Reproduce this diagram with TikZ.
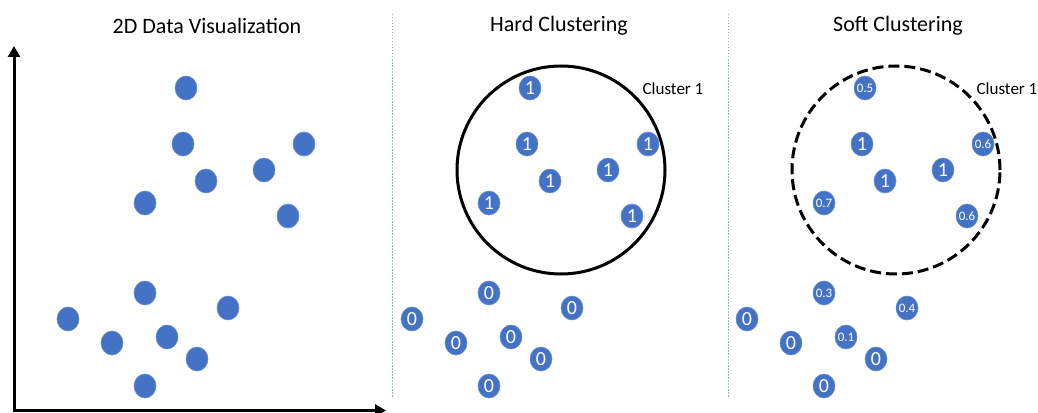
\documentclass[tikz,border=0pt]{standalone}
\usepackage{fontspec}
\setmainfont{Carlito}
\usetikzlibrary{shapes.geometric,arrows.meta}
\definecolor{dotblue}{HTML}{4472C4}
\definecolor{dotedge}{HTML}{6A8ED0}
\definecolor{sepblue}{HTML}{8FB3E3}
\tikzset{
  pt/.style={ellipse, fill=dotblue, draw=dotedge, line width=0.6pt,
             minimum width=22pt, minimum height=24pt, inner sep=0pt,
             text=white, font=\fontsize{20}{20}\selectfont},
  ptsmall/.style={pt, font=\fontsize{13}{13}\selectfont},
  title/.style={font=\fontsize{22}{22}\selectfont},
  clabel/.style={font=\fontsize{17}{17}\selectfont},
  cluster/.style={circle, draw=black, line width=3pt, minimum size=208pt, inner sep=0pt},
  axis/.style={line width=3pt, -{Triangle[width=12pt,length=11pt]}},
  separator/.style={draw=sepblue, line width=0.8pt, dash pattern=on 1.5pt off 1.5pt}
}
\newcommand{\zl}[1]{\makebox[0pt]{#1}}
\begin{document}
\begin{tikzpicture}[x=1pt,y=-1pt]
\useasboundingbox (0,0) rectangle (1038,412);

% titles
\node[title] (t1) at (207,26) {2D Data Visualization};
\node[title] (t2) at (559,26) {Hard Clustering};
\node[title] (t3) at (898,26) {Soft Clustering};

% panel separators
\coordinate (s1a) at (392.5,14);
\coordinate (s1b) at (392.5,397);
\coordinate (s2a) at (728,14);
\coordinate (s2b) at (728,397);
\draw[separator] (s1a) -- (s1b);
\draw[separator] (s2a) -- (s2b);

% axes of the scatter plot
\coordinate (o) at (14,410.5);
\coordinate (ytip) at (14,46);
\coordinate (xtip) at (386,410.5);
\draw[axis] ([yshift=1.5pt]o) -- (ytip);
\draw[axis] ([xshift=-1.5pt]o) -- (xtip);

% raw data points
\foreach \n/\x/\y in {1/186/88, 2/183/144, 3/304/144, 4/264/170, 5/206/181,
                      6/145/203, 7/288/216, 8/145/293, 9/228/308, 10/68/319,
                      11/112/343, 12/167/337, 13/197/359, 14/145/386}
  \node[pt] (a\n) at (\x,\y) {};

% hard clustering
\node[cluster] (hc) at (561,170) {};
\node[clabel] (hcl) at (673,89) {Cluster 1};
\foreach \n/\x/\y/\l in {1/186/88/1, 2/183/144/1, 3/304/144/1, 4/264/170/1, 5/206/181/1,
                         6/145/203/1, 7/288/216/1, 8/145/293/0, 9/228/308/0, 10/68/319/0,
                         11/112/343/0, 12/167/337/0, 13/197/359/0, 14/145/386/0}
  \node[pt] (b\n) at (\x+344,\y) {\zl{\l}};

% soft clustering
\node[cluster, dash pattern=on 11pt off 5pt] (sc) at (896,170) {};
\node[clabel] (scl) at (1007,89) {Cluster 1};
\foreach \n/\x/\y/\l/\s in {1/186/88/0.5/ptsmall, 2/183/144/1/pt, 3/304/144/0.6/ptsmall,
                            4/264/170/1/pt, 5/206/181/1/pt, 6/145/203/0.7/ptsmall,
                            7/288/216/0.6/ptsmall, 8/145/293/0.3/ptsmall, 9/228/308/0.4/ptsmall,
                            10/68/319/0/pt, 11/112/343/0/pt, 12/167/337/0.1/ptsmall,
                            13/197/359/0/pt, 14/145/386/0/pt}
  \node[\s] (c\n) at (\x+679,\y) {\zl{\l}};
\end{tikzpicture}
\end{document}
